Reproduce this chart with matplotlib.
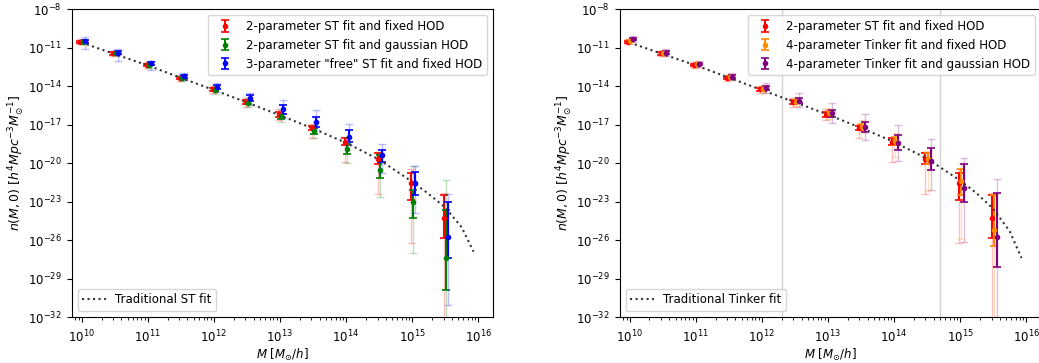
import numpy as np
import matplotlib
matplotlib.use("Agg")
import matplotlib.pyplot as plt
from matplotlib.ticker import LogLocator, NullLocator, NullFormatter

# Halo mass bins [M_sun/h]
mass = [1e10, 3.16e10, 1e11, 3.16e11, 1e12, 3.16e12, 1e13, 3.16e13, 1e14, 3.16e14, 1e15, 3.16e15]

# log10 n(M,0) for each fit, with 1-sigma and 2-sigma bounds in dex (down, up)
st2_fixed = [-10.55, -11.45, -12.34, -13.35, -14.26, -15.25, -16.21, -17.27, -18.34, -19.70, -21.54, -24.31]
st2_fixed_err1 = [[0.08, 0.10, 0.10, 0.10, 0.12, 0.15, 0.20, 0.18, 0.26, 0.40, 1.35, 1.55],
                  [0.08, 0.10, 0.10, 0.10, 0.12, 0.15, 0.20, 0.18, 0.26, 0.45, 0.80, 1.80]]
st2_fixed_err2 = [[0.20, 0.20, 0.25, 0.25, 0.30, 0.35, 0.45, 0.80, 1.60, 2.70, 4.70, 9.00],
                  [0.20, 0.20, 0.25, 0.25, 0.30, 0.35, 0.45, 0.30, 0.40, 0.60, 1.10, 1.95]]

st2_gauss = [-10.55, -11.45, -12.36, -13.35, -14.28, -15.28, -16.34, -17.52, -18.90, -20.55, -23.02, -27.43]
st2_gauss_err1 = [[0.08, 0.10, 0.10, 0.10, 0.12, 0.15, 0.20, 0.25, 0.38, 0.65, 1.28, 2.47],
                  [0.08, 0.10, 0.10, 0.10, 0.12, 0.15, 0.20, 0.25, 0.42, 1.17, 0.92, 3.76]]
st2_gauss_err2 = [[0.20, 0.20, 0.25, 0.25, 0.30, 0.35, 0.45, 0.50, 1.10, 2.10, 4.00, 9.00],
                  [0.20, 0.20, 0.25, 0.25, 0.30, 0.35, 0.45, 0.50, 0.90, 1.30, 2.80, 6.10]]

st3_free = [-10.47, -11.38, -12.23, -13.22, -14.08, -14.91, -15.79, -16.82, -17.95, -19.38, -21.59, -25.74]
st3_free_err1 = [[0.15, 0.15, 0.12, 0.12, 0.15, 0.25, 0.35, 0.35, 0.39, 0.52, 0.90, 1.66],
                 [0.10, 0.12, 0.10, 0.12, 0.15, 0.25, 0.35, 0.43, 0.52, 0.44, 0.90, 2.74]]
st3_free_err2 = [[0.65, 0.65, 0.50, 0.30, 0.37, 0.57, 0.73, 0.60, 0.65, 1.42, 2.30, 5.36],
                 [0.30, 0.24, 0.20, 0.28, 0.30, 0.39, 0.70, 0.95, 0.96, 0.83, 1.40, 3.34]]

tk4_fixed = [-10.50, -11.42, -12.30, -13.30, -14.22, -15.20, -16.13, -17.17, -18.26, -19.65, -21.38, -25.20]
tk4_fixed_err1 = [[0.08, 0.10, 0.10, 0.10, 0.12, 0.15, 0.20, 0.25, 0.30, 0.45, 1.10, 1.30],
                  [0.08, 0.10, 0.10, 0.10, 0.12, 0.15, 0.20, 0.25, 0.30, 0.45, 0.90, 2.70]]
tk4_fixed_err2 = [[0.20, 0.20, 0.25, 0.25, 0.30, 0.35, 0.40, 0.50, 1.30, 2.50, 4.50, 8.00],
                  [0.20, 0.20, 0.25, 0.25, 0.30, 0.35, 0.40, 0.50, 0.60, 0.60, 1.30, 2.70]]

tk4_gauss = [-10.34, -11.38, -12.28, -13.25, -14.16, -15.15, -16.13, -17.22, -18.42, -19.82, -21.98, -25.74]
tk4_gauss_err1 = [[0.10, 0.10, 0.10, 0.12, 0.15, 0.20, 0.25, 0.34, 0.57, 0.73, 1.04, 2.36],
                  [0.10, 0.10, 0.10, 0.12, 0.15, 0.20, 0.25, 0.44, 0.60, 0.96, 1.90, 3.37]]
tk4_gauss_err2 = [[0.25, 0.25, 0.25, 0.30, 0.35, 0.45, 0.78, 0.98, 1.40, 2.28, 4.16, 8.00],
                  [0.25, 0.25, 0.25, 0.30, 0.40, 0.60, 0.78, 1.04, 1.38, 1.66, 2.34, 4.50]]

# Traditional mass-function fits
fit_logM = [10.0, 10.5, 11.0, 11.5, 12.0, 12.5, 13.0, 13.5, 14.0, 14.5, 15.0, 15.25, 15.5, 15.75, 15.93]
st_fit = [-10.6, -11.5, -12.38, -13.35, -14.3, -15.27, -16.27, -17.3, -18.42, -19.72, -21.45, -22.4, -23.45, -25.0, -26.9]
tinker_fit = [-10.6, -11.5, -12.38, -13.33, -14.3, -15.25, -16.22, -17.25, -18.35, -19.65, -21.35, -22.35, -23.55, -25.3, -27.4]

# Axis ticks
x_ticks = [1e10, 1e11, 1e12, 1e13, 1e14, 1e15, 1e16]
y_ticks = [1e-32, 1e-29, 1e-26, 1e-23, 1e-20, 1e-17, 1e-14, 1e-11, 1e-8]

# Mass range bounds marked on the Tinker panel
tinker_bounds = [2e12, 5e14]


def draw_series(ax, shift, center, err1, err2, color, label):
    c = np.array(center)
    x = np.array(mass) * shift
    y = 10.0 ** c
    lo1 = y - 10.0 ** (c - np.array(err1[0]))
    hi1 = 10.0 ** (c + np.array(err1[1])) - y
    lo2 = y - 10.0 ** (c - np.array(err2[0]))
    hi2 = 10.0 ** (c + np.array(err2[1])) - y
    ax.errorbar(x, y, yerr=[lo2, hi2], fmt='none', ecolor=color, alpha=0.25,
                elinewidth=1.0, capsize=3, capthick=1.0)
    ax.errorbar(x, y, yerr=[lo1, hi1], fmt='o', color=color, ms=3,
                elinewidth=1.5, capsize=3, capthick=1.2, label=label)


def style_axes(ax, fit, fit_label):
    line, = ax.plot(10.0 ** np.array(fit_logM), 10.0 ** np.array(fit), ':',
                    color='#333333', lw=1.5, label=fit_label)
    ax.set_xscale('log')
    ax.set_yscale('log')
    ax.set_xlim(10 ** 9.85, 10 ** 16.22)
    ax.set_ylim(1e-32, 1e-8)
    ax.set_xticks(x_ticks)
    ax.xaxis.set_minor_locator(LogLocator(base=10, subs=np.arange(2, 10), numticks=50))
    ax.xaxis.set_minor_formatter(NullFormatter())
    ax.set_yticks(y_ticks)
    ax.yaxis.set_minor_locator(NullLocator())
    ax.tick_params(labelsize=8.5)
    ax.tick_params(axis='x', which='major', pad=5)
    ax.set_xlabel(r'$M$ [$M_{\odot}/h$]', fontsize=8.5, labelpad=1)
    ax.set_ylabel(r'$n(M,0)$ [$h^4Mpc^{-3}M_{\odot}^{-1}$]', fontsize=9, labelpad=1)
    handles, labels = ax.get_legend_handles_labels()
    pts = [(h, l) for h, l in zip(handles, labels) if h is not line]
    leg1 = ax.legend([p[0] for p in pts], [p[1] for p in pts], loc='upper right', fontsize=8.5)
    ax.add_artist(leg1)
    ax.legend([line], [fit_label], loc='lower left', fontsize=8.5)


fig = plt.figure(figsize=(10.39, 3.63), dpi=100)
ax1 = fig.add_axes([0.069, 0.1267, 0.4052, 0.848])
ax2 = fig.add_axes([0.5964, 0.1267, 0.4052, 0.848])

draw_series(ax1, 0.96, st2_fixed, st2_fixed_err1, st2_fixed_err2, 'red', '2-parameter ST fit and fixed HOD')
draw_series(ax1, 1.04, st2_gauss, st2_gauss_err1, st2_gauss_err2, 'green', '2-parameter ST fit and gaussian HOD')
draw_series(ax1, 1.12, st3_free, st3_free_err1, st3_free_err2, 'blue', '3-parameter "free" ST fit and fixed HOD')
style_axes(ax1, st_fit, 'Traditional ST fit')

for b in tinker_bounds:
    ax2.axvline(b, color='lightgray', lw=1.0, zorder=0)
draw_series(ax2, 0.95, st2_fixed, st2_fixed_err1, st2_fixed_err2, 'red', '2-parameter ST fit and fixed HOD')
draw_series(ax2, 1.03, tk4_fixed, tk4_fixed_err1, tk4_fixed_err2, 'darkorange', '4-parameter Tinker fit and fixed HOD')
draw_series(ax2, 1.14, tk4_gauss, tk4_gauss_err1, tk4_gauss_err2, 'purple', '4-parameter Tinker fit and gaussian HOD')
style_axes(ax2, tinker_fit, 'Traditional Tinker fit')

fig.savefig('out.png', dpi=100)
